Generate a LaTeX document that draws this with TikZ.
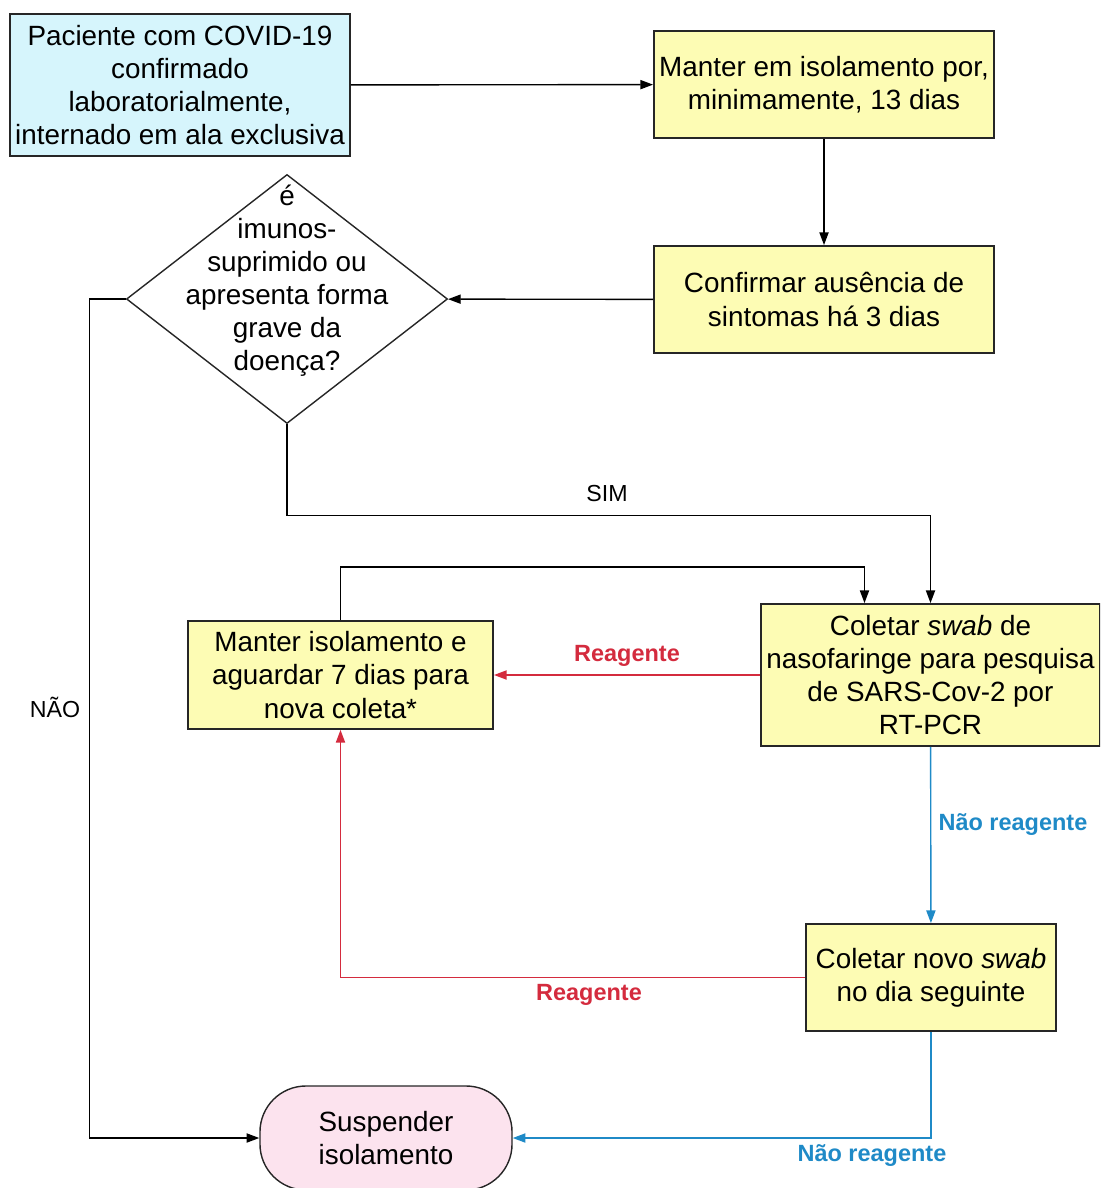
\documentclass[tikz,border=0pt]{standalone}
\usepackage{fontspec}
\setmainfont{Liberation Sans}
\usetikzlibrary{shapes.geometric,arrows.meta}
\definecolor{boxblue}{HTML}{D6F5FC}
\definecolor{boxyellow}{HTML}{FDFCB4}
\definecolor{boxpink}{HTML}{FCE3EE}
\definecolor{lnred}{HTML}{D42B3E}
\definecolor{lnblue}{HTML}{1F8AC7}
\begin{document}
\begin{tikzpicture}[x=0.025cm,y=-0.025cm,
  txt/.style={font=\fontsize{19.8}{23.5}\selectfont, align=center},
  box/.style={txt, draw=black!85, line width=1.3pt, fill=boxyellow, inner sep=0pt, rectangle},
  conn/.style={line width=1pt, -{Triangle[length=9pt,width=6.5pt]}},
  lab/.style={font=\fontsize{16.5}{19}\selectfont},
  blab/.style={font=\fontsize{16.7}{19}\selectfont\bfseries},
]
\useasboundingbox (0,0) rectangle (1100,1188);
\clip (0,0) rectangle (1100,1188);

% nodes
\node[box, fill=boxblue, minimum width=8.5cm, minimum height=3.55cm] (A) at (180,85)
  {Paciente com COVID-19\\confirmado\\laboratorialmente,\\internado em ala exclusiva};
\node[box, minimum width=8.5cm, minimum height=2.675cm] (B) at (824,84.5)
  {Manter em isolamento por,\\minimamente, 13 dias};
\node[box, minimum width=8.5cm, minimum height=2.675cm] (C) at (824,299.5)
  {Confirmar ausência de\\sintomas há 3 dias};
\node[diamond, draw=black!85, line width=1pt, fill=white, inner sep=0pt,
  minimum width=8.025cm, minimum height=6.225cm] (d) at (287,299) {};
\node[txt] (dtext) at (287,280.5) {é\\imunos-\\suprimido ou\\apresenta forma\\grave da\\doença?};
\node[box, minimum width=8.475cm, minimum height=3.55cm] (D) at (930.5,675)
  {Coletar \textit{swab} de\\nasofaringe para pesquisa\\de SARS-Cov-2 por\\RT-PCR};
\node[box, minimum width=7.625cm, minimum height=2.7cm] (E) at (340.5,675)
  {Manter isolamento e\\aguardar 7 dias para\\nova coleta*};
\node[box, minimum width=6.25cm, minimum height=2.675cm] (F) at (931,977.5)
  {Coletar novo \textit{swab}\\no dia seguinte};
\node[box, fill=boxpink, line width=1pt, rounded corners=1.15cm,
  minimum width=6.3cm, minimum height=2.6cm] (G) at (386,1138)
  {Suspender\\isolamento};

% connectors
\draw[conn] (A) -- (B);
\draw[conn] (B) -- (C);
\draw[conn] (C) -- (d);
\draw[conn] (d.west) -- ++(-36,0) |- (G.west);
\node[lab] (nao) at (55,707) {NÃO};
\draw[conn] (d.south) -- ++(0,91) -| (D.north);
\node[lab] (sim) at (607,494) {SIM};
\draw[conn] (E.north) -- ++(0,-53) -| ([xshift=-1.65cm]D.north);
\draw[conn, color=lnred] (D) -- (E);
\node[blab, text=lnred] (r1) at (627,656) {Reagente};
\draw[conn, color=lnblue] (D) -- (F);
\node[blab, text=lnblue] (n1) at (1013,825) {Não reagente};
\draw[conn, color=lnred] (F.west) -| (E.south);
\node[blab, text=lnred] (r2) at (589,995) {Reagente};
\draw[conn, color=lnblue] (F.south) |- (G.east);
\node[blab, text=lnblue] (n2) at (872,1156) {Não reagente};
\end{tikzpicture}
\end{document}
